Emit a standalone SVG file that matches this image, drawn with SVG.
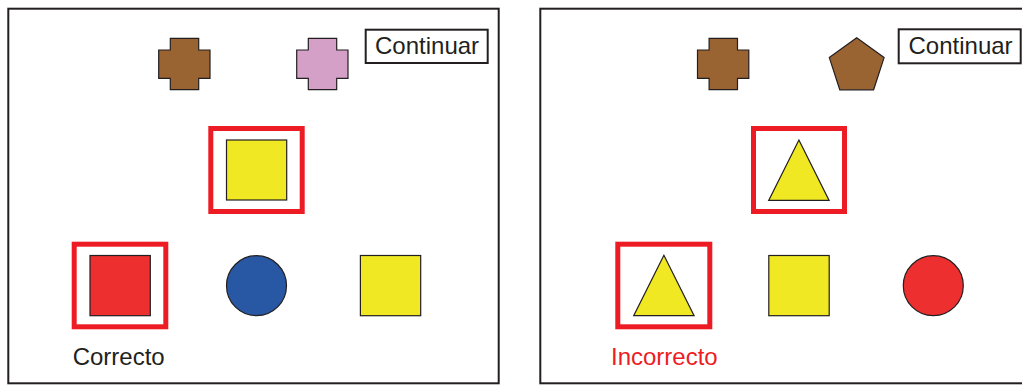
<svg xmlns="http://www.w3.org/2000/svg" width="1022" height="386" viewBox="0 0 1022 386">
  <style>
    .panel { fill: #ffffff; stroke: #231f20; stroke-width: 2; }
    .btn { fill: #ffffff; stroke: #231f20; stroke-width: 2; }
    .btn-label { font-family: "Liberation Sans", Arial, sans-serif; font-size: 24px; fill: #231f20; }
    .label { font-family: "Liberation Sans", Arial, sans-serif; font-size: 24px; }
    .shape { stroke: #231f20; stroke-width: 1.2; }
    .hl { fill: none; stroke: #ed1c24; stroke-width: 5; }
    .brown { fill: #9a6332; }
    .pink { fill: #d5a0c8; }
    .yellow { fill: #efe823; }
    .red { fill: #ed2f2f; }
    .blue { fill: #2857a4; }
  </style>
  <defs>
    <!-- cross shape, 51x51 with 28px arms -->
    <path id="cross" d="M11.6,0 H40 V11.7 H51.3 V40 H40 V51.4 H11.6 V40 H0 V11.7 H11.6 Z"/>
    <!-- upward triangle, 60 wide and 60 tall -->
    <path id="tri" d="M30.2,0 L60.4,60.4 L0,60.4 Z"/>
  </defs>

  <rect width="1022" height="386" fill="#ffffff"/>

  <!-- Left panel: correct response -->
  <g id="panel-correct">
    <rect class="panel" x="8.3" y="8.7" width="490.4" height="374.6"/>
    <g id="continue-left">
      <rect class="btn" x="365.7" y="29.7" width="122" height="33.3"/>
      <text class="btn-label" x="375" y="53.5">Continuar</text>
    </g>
    <g id="sample-left-1">
      <use href="#cross" class="shape brown" x="158.7" y="38.3"/>
    </g>
    <g id="sample-left-2">
      <use href="#cross" class="shape pink" x="296.7" y="38.3"/>
    </g>
    <g id="target-left">
      <rect class="hl" x="210.8" y="128.5" width="91.4" height="83"/>
      <rect class="shape yellow" x="226.5" y="140" width="60.2" height="60"/>
    </g>
    <g id="choice-left-1">
      <rect class="hl" x="74.2" y="244.2" width="91.6" height="82.6"/>
      <rect class="shape red" x="90" y="255.5" width="60.3" height="60.2"/>
    </g>
    <g id="choice-left-2">
      <circle class="shape blue" cx="256.5" cy="285.7" r="30"/>
    </g>
    <g id="choice-left-3">
      <rect class="shape yellow" x="360.4" y="255.5" width="60.3" height="60.2"/>
    </g>
    <text class="label" x="72.7" y="365" fill="#231f20">Correcto</text>
  </g>

  <!-- Right panel: incorrect response -->
  <g id="panel-incorrect">
    <rect class="panel" x="540.3" y="8.7" width="490.4" height="374.6"/>
    <g id="continue-right">
      <rect class="btn" x="898.7" y="29.3" width="122" height="34"/>
      <text class="btn-label" x="908.5" y="53.5">Continuar</text>
    </g>
    <g id="sample-right-1">
      <use href="#cross" class="shape brown" x="697.5" y="38.3"/>
    </g>
    <g id="sample-right-2">
      <polygon class="shape brown" points="856.7,37.7 884.1,57.6 873.6,89.8 839.8,89.8 829.3,57.6"/>
    </g>
    <g id="target-right">
      <rect class="hl" x="753.5" y="128.5" width="91" height="83"/>
      <use href="#tri" class="shape yellow" x="768.7" y="140"/>
    </g>
    <g id="choice-right-1">
      <rect class="hl" x="617.8" y="244.2" width="92" height="82.6"/>
      <use href="#tri" class="shape yellow" x="633.7" y="255.3"/>
    </g>
    <g id="choice-right-2">
      <rect class="shape yellow" x="768.8" y="255.5" width="60.4" height="60.2"/>
    </g>
    <g id="choice-right-3">
      <circle class="shape red" cx="933.3" cy="285.7" r="30"/>
    </g>
    <text class="label" x="611" y="365" fill="#ed1c24">Incorrecto</text>
  </g>
</svg>
